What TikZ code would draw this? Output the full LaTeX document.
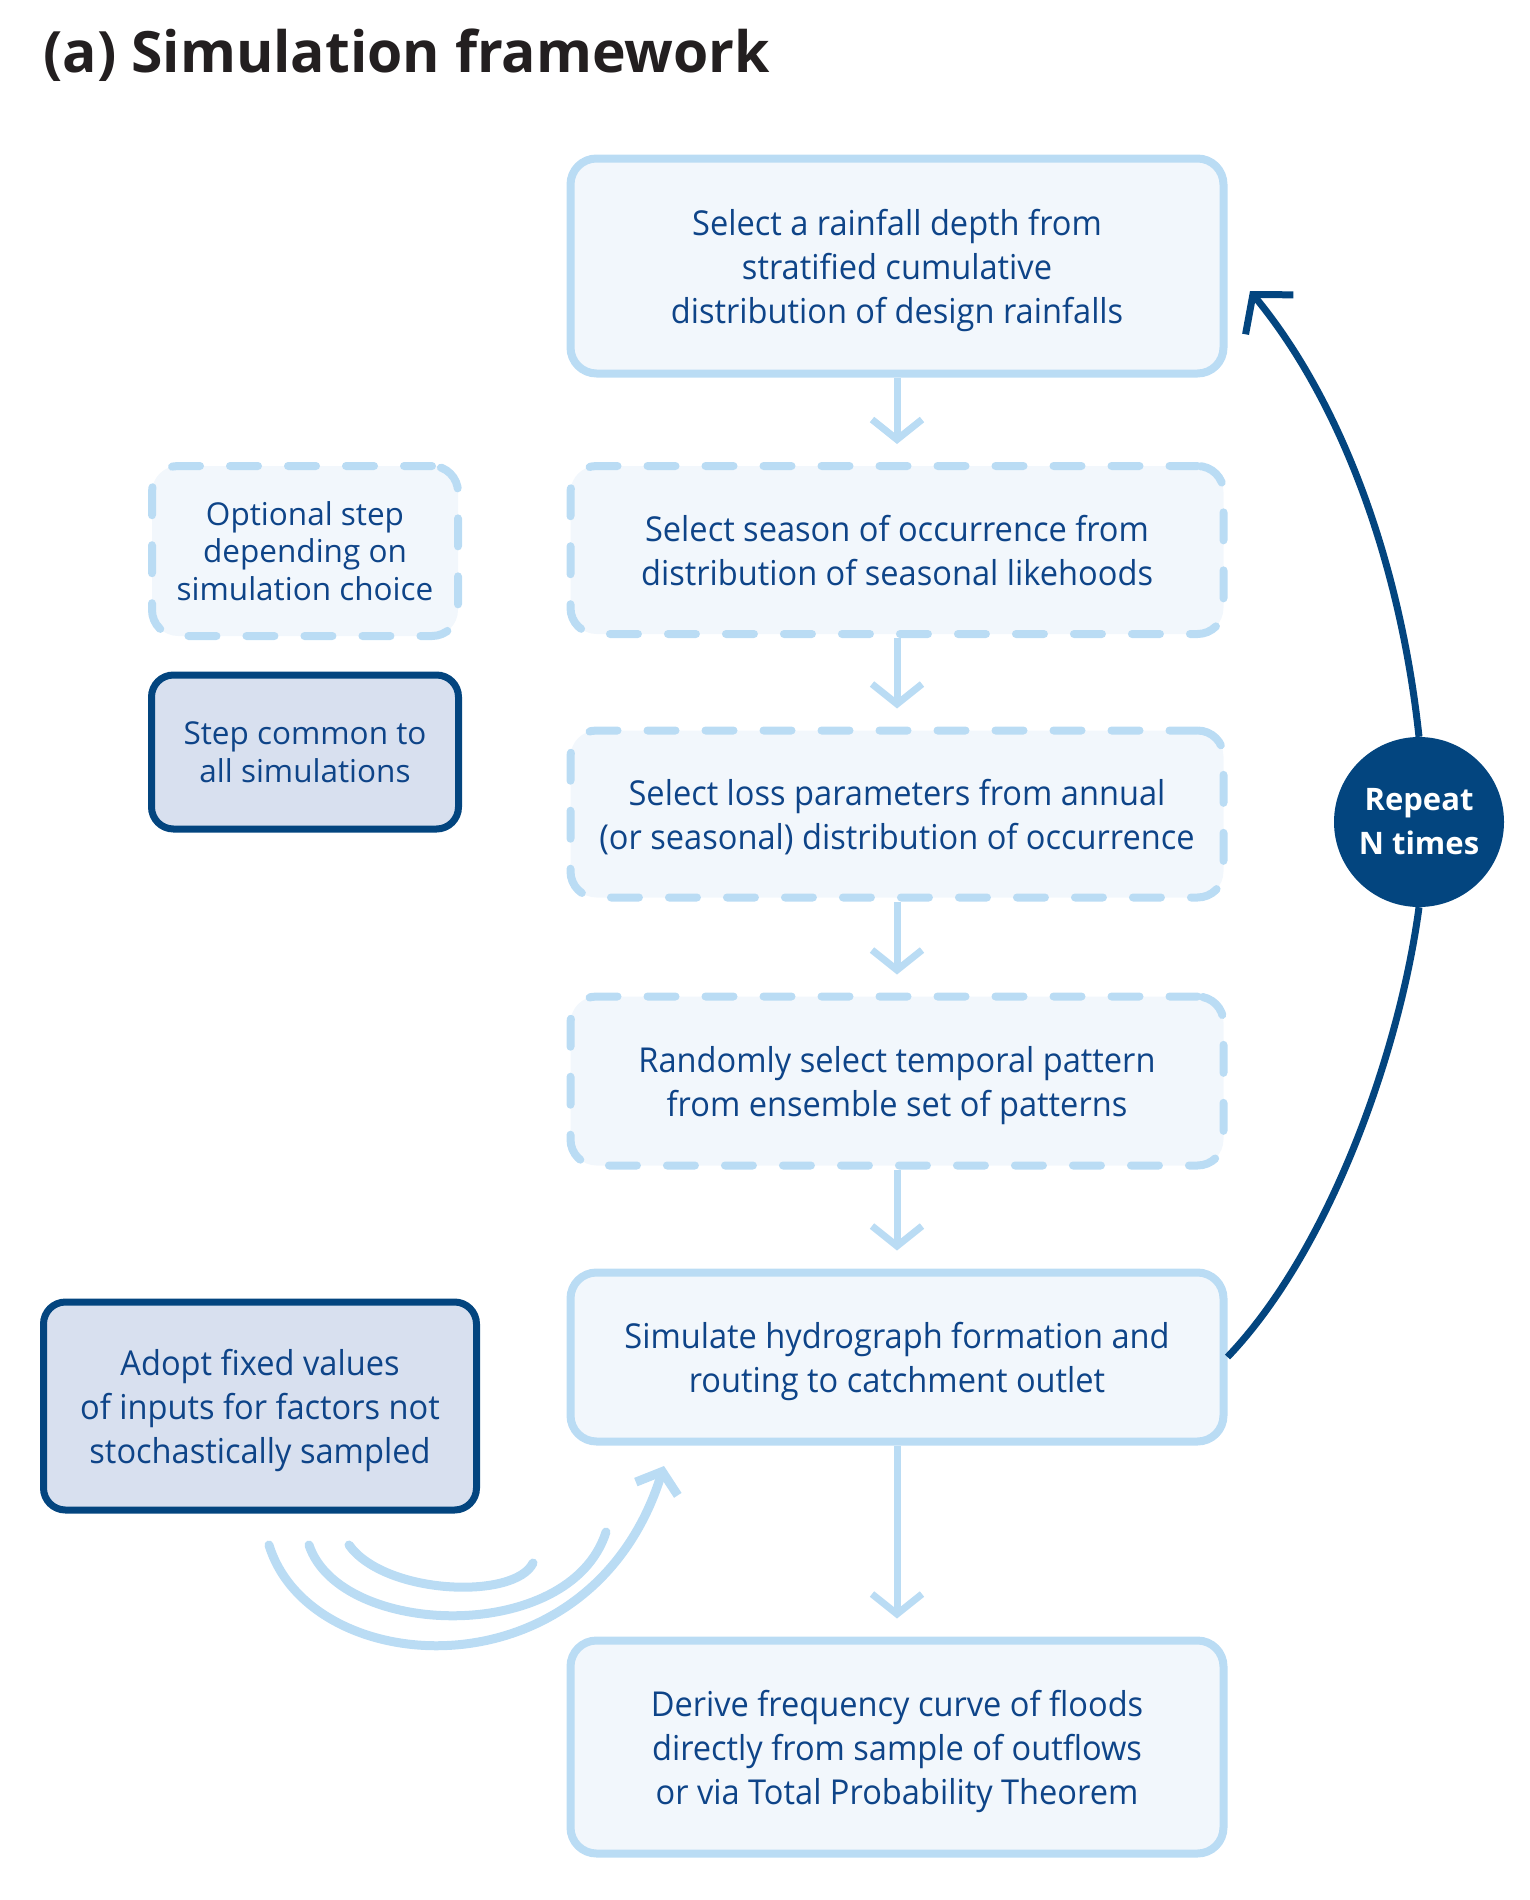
\documentclass[tikz,border=0pt]{standalone}
\usepackage{fontspec}
\setmainfont{Open Sans}
\newfontfamily\condfont[FakeStretch=0.95]{Open Sans}
\usepackage{tikz}
\usetikzlibrary{arrows.meta,positioning}
\definecolor{simline}{HTML}{BADCF4}
\definecolor{simfill}{HTML}{F2F7FC}
\definecolor{simnavy}{HTML}{03457F}
\definecolor{simtext}{HTML}{0E4488}
\definecolor{simdark}{HTML}{D8E0EF}
\definecolor{simtitle}{HTML}{231F20}

\begin{document}
\begin{tikzpicture}[x=1pt, y=-1pt,
  stepbox/.style={draw=simline, fill=simfill, line width=8pt, rounded corners=26pt,
    minimum width=653pt, align=center, text=simtext, text depth=0pt,
    font=\condfont\fontsize{34.3}{44}\selectfont},
  optbox/.style={stepbox, dash pattern=on 28pt off 30pt, line cap=round},
  fixbox/.style={stepbox, draw=simnavy, fill=simdark, line width=7pt, rounded corners=22pt},
  keytext/.style={font=\fontsize{31.5}{37.5}\selectfont},
  flow/.style={draw=simline, line width=7pt, shorten >=18pt,
    -{Straight Barb[length=20pt,width=50pt]}},
  swoosh/.style={draw=simline, line width=9pt, line cap=round},
  loop/.style={draw=simnavy, line width=7pt}
]
\useasboundingbox (0,0) rectangle (1530,1900);
% ── Title ────────────────────────────────────────
\node[anchor=base west, text=simtitle, font=\bfseries\fontsize{57}{64}\selectfont]
  (title) at (40,73) {(a) Simulation framework};
% ── Main column ──────────────────────────────────
\node[stepbox, minimum height=215pt] (depth) at (897,266)
  {Select a rainfall depth from\\stratified cumulative\\distribution of design rainfalls};
\node[optbox, minimum height=168pt] (season) at (897,550)
  {Select season of occurrence from\\distribution of seasonal likehoods};
\node[optbox, minimum height=167pt] (loss) at (897,814)
  {Select loss parameters from annual\\(or seasonal) distribution of occurrence};
\node[optbox, minimum height=169pt] (pattern) at (897,1081)
  {Randomly select temporal pattern\\from ensemble set of patterns};
\node[stepbox, minimum height=169pt] (hydro) at (897,1357)
  {Simulate hydrograph formation and\\routing to catchment outlet};
\node[stepbox, minimum height=213pt] (freq) at (897,1747)
  {Derive frequency curve of floods\\directly from sample of outflows\\or via Total Probability Theorem};
\draw[flow] (depth.south) -- (season.north);
\draw[flow] (season.south) -- (loss.north);
\draw[flow] (loss.south) -- (pattern.north);
\draw[flow] (pattern.south) -- (hydro.north);
\draw[flow] (hydro.south) -- (freq.north);
% ── Key ──────────────────────────────────────────
\node[optbox, keytext, minimum width=306pt, minimum height=170pt] (keyopt) at (305,551)
  {Optional step\\depending on\\simulation choice};
\node[fixbox, keytext, minimum width=307pt, minimum height=154pt] (keycom) at (305,752)
  {Step common to\\all simulations};
% ── Fixed inputs ─────────────────────────────────
\node[fixbox, minimum width=433pt, minimum height=208pt] (fixed) at (260,1406)
  {Adopt fixed values\\of inputs for factors not\\stochastically sampled};
\coordinate (sw1) at (269,1545);
\coordinate (sw2) at (309,1545);
\coordinate (sw3) at (349,1545);
\coordinate (tip1) at (664,1466);
\coordinate (end2) at (606,1532);
\coordinate (end3) at (533,1563);
\draw[swoosh, -{Straight Barb[length=18pt,width=44pt]}]
  (sw1) .. controls (310,1680) and (590,1700) .. (tip1);
\draw[swoosh] (sw2) .. controls (340,1638) and (570,1645) .. (end2);
\draw[swoosh] (sw3) .. controls (385,1595) and (515,1600) .. (end3);
% ── Repeat loop ──────────────────────────────────
\node[circle, fill=simnavy, minimum size=170pt, inner sep=0pt, align=center, text=white,
  font=\bfseries\fontsize{31}{44}\selectfont] (repeat) at (1419,822) {Repeat\\N times};
\coordinate (looptip) at (1250,291);
\draw[loop] (hydro.east) .. controls (1330,1250) and (1400,1050) .. (repeat.south);
\draw[loop, -{Straight Barb[length=26pt,width=62pt]}]
  (repeat.north) .. controls (1400,560) and (1340,400) .. (looptip);
\end{tikzpicture}
\end{document}
